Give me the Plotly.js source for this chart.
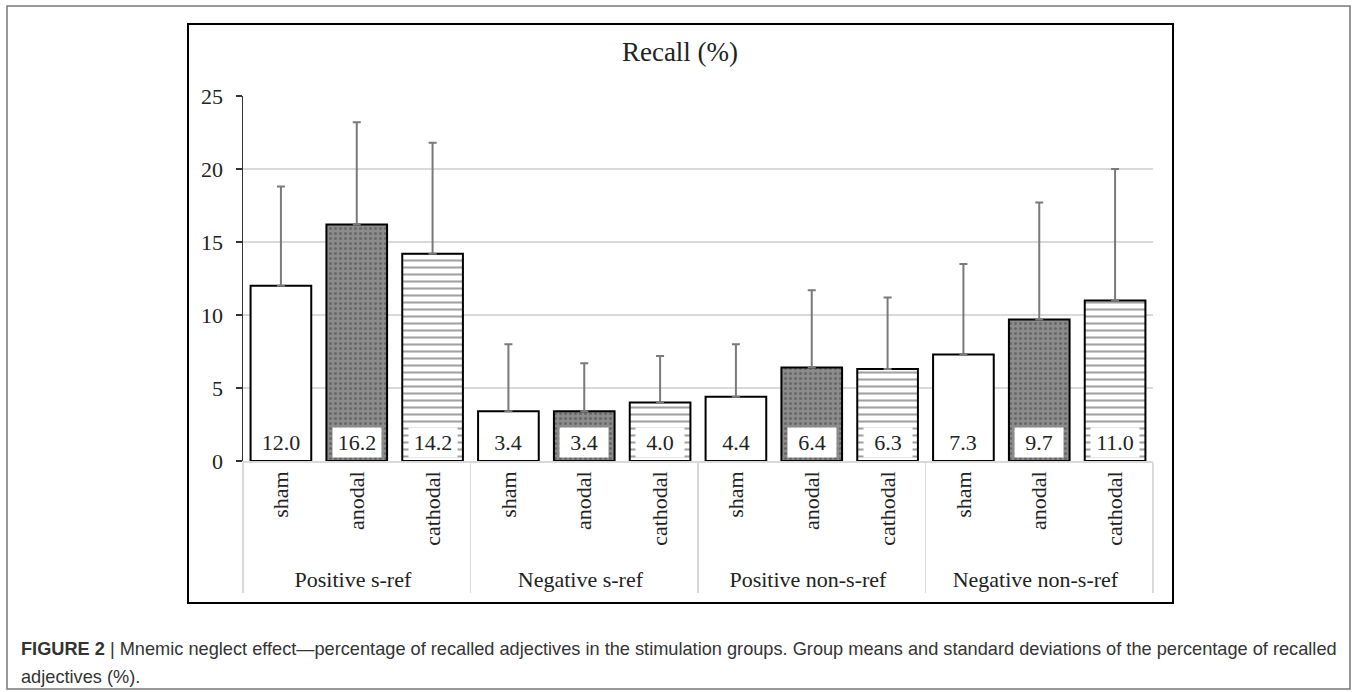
<!DOCTYPE html>
<html>
<head>
<meta charset="utf-8">
<script src="https://cdn.plot.ly/plotly-3.0.1.min.js"></script>
<style>
html,body{margin:0;padding:0;background:#fff;}
#chart{width:1355px;height:692px;}
</style>
</head>
<body>
<div id="chart"></div>
<script>
// ---- data ----
const groups = ["Positive s-ref","Positive s-ref","Positive s-ref",
                "Negative s-ref","Negative s-ref","Negative s-ref",
                "Positive non-s-ref","Positive non-s-ref","Positive non-s-ref",
                "Negative non-s-ref","Negative non-s-ref","Negative non-s-ref"];
const conditions = ["sham","anodal","cathodal","sham","anodal","cathodal",
                    "sham","anodal","cathodal","sham","anodal","cathodal"];
const means = [12.0,16.2,14.2, 3.4,3.4,4.0, 4.4,6.4,6.3, 7.3,9.7,11.0];
const sds   = [6.8,7.0,7.6, 4.6,3.3,3.2, 3.6,5.3,4.9, 6.2,8.0,9.0];
const chartTitle = "Recall (%)";
const captionLine1 = "<b>FIGURE 2</b> | Mnemic neglect effect\u2014percentage of recalled adjectives in the stimulation groups. Group means and standard deviations of the percentage of recalled";
const captionLine2 = "adjectives (%).";

// ---- styles per condition ----
const styleFor = {
  sham:     {shape:"",  bg:"#ffffff", size:6, sol:0.3},
  anodal:   {shape:".", bg:"#8c8c8c", size:5, sol:0.3},
  cathodal: {shape:"-", bg:"#ffffff", size:7, sol:0.3}
};

const serif = "Liberation Serif, Times New Roman, serif";

// plot area pixel geometry
const L = 243, R = 1153, T = 96, B = 461, W = 1355, H = 692;
const px = v => (v - L) / (R - L);
const py = v => (B - v) / (B - T);

const trace = {
  type: "bar",
  x: [groups, conditions],
  y: means,
  marker: {
    color: conditions.map(c => styleFor[c].bg),
    line: {color: "#000000", width: 2},
    pattern: {
      shape: conditions.map(c => styleFor[c].shape),
      fgcolor: "#000000",
      size: conditions.map(c => styleFor[c].size),
      solidity: conditions.map(c => styleFor[c].sol),
      fillmode: "overlay"
    }
  },
  error_y: {
    type: "data", symmetric: false,
    array: sds, arrayminus: sds.map(() => 0),
    color: "#7a7a7a", thickness: 2, width: 4
  },
  hoverinfo: "skip",
  showlegend: false
};

const valueLabels = means.map((m, i) => ({
  xref: "x", yref: "y", x: i, y: 0,
  text: m.toFixed(1), showarrow: false,
  xanchor: "center", yanchor: "bottom", yshift: 3,
  bgcolor: "#ffffff", borderpad: 2, width: 44,
  font: {family: serif, size: 22, color: "#222"}
}));

const layout = {
  width: W, height: H,
  margin: {l: L, r: W - R, t: T, b: H - B, pad: 0},
  paper_bgcolor: "#ffffff", plot_bgcolor: "#ffffff",
  bargap: 0.2,
  font: {family: serif, size: 22, color: "#222"},
  title: {
    text: chartTitle, font: {family: serif, size: 27, color: "#222"},
    xref: "paper", x: px(680), xanchor: "center",
    yref: "container", y: 1 - 52 / H, yanchor: "middle"
  },
  xaxis: {
    type: "multicategory",
    tickangle: -90,
    showline: true, linecolor: "#d9d9d9", linewidth: 1.5,
    ticks: "", showgrid: false,
    showdividers: true, dividercolor: "#d9d9d9", dividerwidth: 1.5,
    tickfont: {family: serif, size: 22, color: "#222"},
    automargin: false
  },
  yaxis: {
    range: [0, 25], dtick: 5,
    showline: true, linecolor: "#333", linewidth: 1.5,
    ticks: "outside", ticklen: 6, tickcolor: "#333", tickwidth: 1.5,
    showgrid: true, gridcolor: "#d9d9d9", gridwidth: 1.5,
    zeroline: false,
    tickfont: {family: serif, size: 22, color: "#222"},
    ticklabelstandoff: 8,
    automargin: false
  },
  shapes: [
    {type: "rect", xref: "paper", yref: "paper",
     x0: px(7), x1: px(1350), y0: py(689), y1: py(6),
     line: {color: "#777", width: 1.5}, fillcolor: "rgba(0,0,0,0)", layer: "below"},
    {type: "rect", xref: "paper", yref: "paper",
     x0: px(188), x1: px(1173), y0: py(603), y1: py(24),
     line: {color: "#000", width: 2}, fillcolor: "rgba(0,0,0,0)", layer: "below"}
  ],
  annotations: valueLabels.concat([
    {xref: "paper", yref: "paper", x: px(19), y: py(649), xanchor: "left", yanchor: "middle",
     text: captionLine1, showarrow: false, align: "left",
     font: {family: "Liberation Sans, Arial, sans-serif", size: 18.2, color: "#333"}},
    {xref: "paper", yref: "paper", x: px(19), y: py(677), xanchor: "left", yanchor: "middle",
     text: captionLine2, showarrow: false, align: "left",
     font: {family: "Liberation Sans, Arial, sans-serif", size: 18.2, color: "#333"}}
  ])
};

Plotly.newPlot("chart", [trace], layout, {displayModeBar: false, staticPlot: true});
</script>
</body>
</html>
